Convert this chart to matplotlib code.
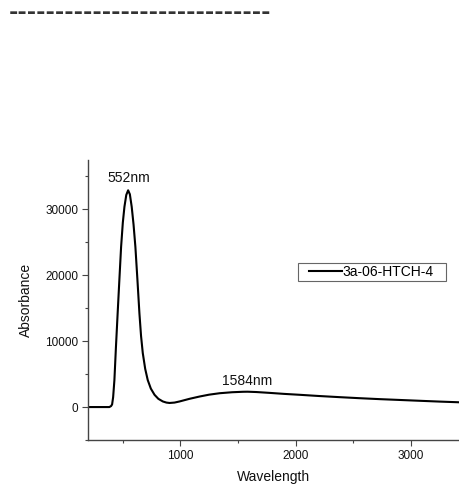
import matplotlib
matplotlib.use("Agg")
import matplotlib.pyplot as plt
from matplotlib.legend_handler import HandlerLine2D
from matplotlib.ticker import MultipleLocator

# Data
wavelength = [200, 300, 385, 400, 409, 418, 429, 442, 457, 472, 487, 502, 516, 532, 548, 563,
              579, 595, 611, 628, 646, 660, 675, 696, 718, 745, 777, 810, 849, 880, 907, 950,
              994, 1080, 1168, 1250, 1342, 1450, 1545, 1584, 1660, 1777, 1900, 2037, 2200,
              2385, 2550, 2732, 2900, 3080, 3250, 3426]
absorbance = [0, 0, 0, 150, 400, 1500, 4100, 9000, 14200, 19300, 24300, 28000, 30400, 32200,
              32900, 32300, 30400, 27700, 24300, 19500, 14200, 10800, 8200, 5800, 4100, 2800,
              1860, 1250, 850, 680, 620, 680, 850, 1250, 1600, 1880, 2100, 2250, 2320, 2330,
              2280, 2150, 2000, 1860, 1680, 1500, 1350, 1200, 1080, 950, 830, 720]
series_name = "3a-06-HTCH-4"
peak_labels = ["552nm", "1584nm"]
peak_x = [552, 1584]
peak_label_y = [34800, 4000]
x_ticks = [1000, 2000, 3000]
y_ticks = [0, 10000, 20000, 30000]

plt.rcParams['font.family'] = ['Liberation Sans', 'DejaVu Sans']

W, H = 460, 484
fig = plt.figure(figsize=(W / 100, H / 100), dpi=100)
ax = fig.add_axes([88 / W, 44 / H, (W - 88) / W, 280 / H])

ax.plot(wavelength, absorbance, color='black', lw=1.5, label=series_name)

ax.set_xlim(200, 3426)
ax.set_ylim(-5000, 37500)
ax.set_xticks(x_ticks)
ax.set_yticks(y_ticks)
ax.xaxis.set_minor_locator(MultipleLocator(500))
ax.yaxis.set_minor_locator(MultipleLocator(5000))

for s in ['top', 'right']:
    ax.spines[s].set_visible(False)
for s in ['left', 'bottom']:
    ax.spines[s].set_color('#444444')
    ax.spines[s].set_linewidth(1.0)

ax.tick_params(which='major', direction='out', length=4, width=0.8, color='#444444',
               labelsize=8.5, labelcolor='#111111', pad=3)
ax.tick_params(which='minor', direction='out', length=2.5, width=0.8, color='#444444')

ax.set_xlabel("Wavelength", fontsize=10, color='#111111', labelpad=6)
ax.set_ylabel("Absorbance", fontsize=10, color='#111111', labelpad=9)

for lab, px, py in zip(peak_labels, peak_x, peak_label_y):
    ax.text(px, py, lab, ha='center', va='center', fontsize=10, color='#111111')

leg = ax.legend(loc='upper left',
                bbox_to_anchor=(298 / W, 1 - 281 / H, 148 / W, 18 / H),
                bbox_transform=fig.transFigure, mode='expand', borderaxespad=0,
                borderpad=0.15, handlelength=3.0, handletextpad=0.05,
                fontsize=10, fancybox=False, framealpha=1, edgecolor='#666666',
                handler_map={plt.Line2D: HandlerLine2D(xpad=0.65)})
leg.get_frame().set_linewidth(0.8)

fig.text(9 / W, 1 - 13 / H, "-" * 28, fontsize=16.1, family='DejaVu Sans',
         fontweight='bold', ha='left', va='center', color='#333333')

fig.savefig("out.png", dpi=100)
